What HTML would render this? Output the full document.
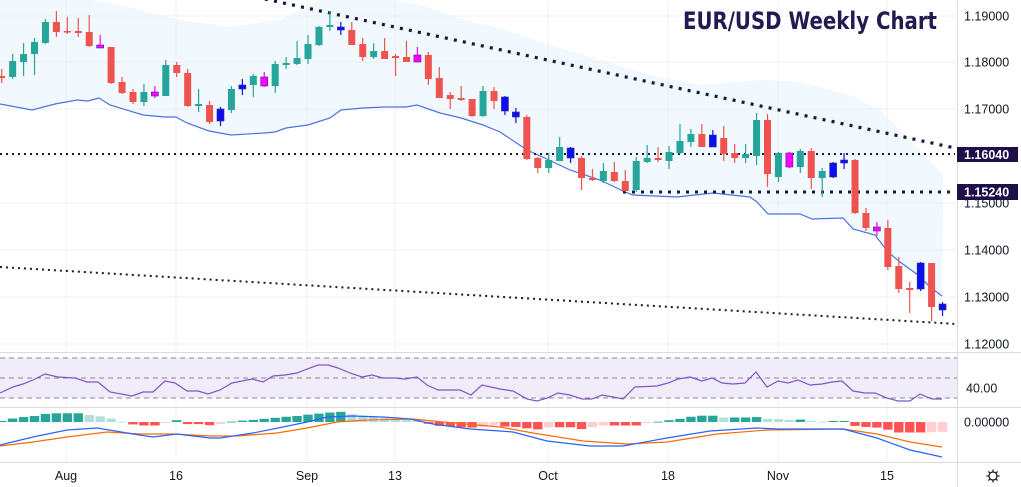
<!DOCTYPE html>
<html><head><meta charset="utf-8"><style>
html,body{margin:0;padding:0;background:#fff;width:1021px;height:487px;overflow:hidden}
svg{display:block}
text{font-family:"Liberation Sans",sans-serif}
</style></head><body>
<svg id="s" width="1021" height="487" viewBox="0 0 1021 487" xmlns="http://www.w3.org/2000/svg"></svg>
<script>
const s=document.getElementById('s');let h='';
const X=i=>1.7+10.94*i;
const up=[[0,-5],[60,-5],[120,5],[180,20],[230,27],[280,20],[320,0],[360,-5],[420,5],[470,22],[500,28],[550,45],[600,60],[650,75],[700,85],[760,80],[800,82],[850,95],[880,110],[910,140],[943,175]];
const lo=[[0,104],[32,110],[55,104],[77,100],[88,101],[99,98],[110,105],[143,115],[165,117],[176,117],[187,123],[209,131],[231,135],[264,133],[275,132],[286,128],[308,125],[330,118],[341,110],[363,108],[385,107],[406,107],[417,105],[440,113],[461,118],[483,125],[500,132],[527,150],[549,160],[570,170],[600,180],[625,192],[633,195],[677,197],[713,193],[750,197],[757,202],[768,214],[800,214],[812,219],[843,218],[853,229],[875,235],[888,252],[900,262],[918,275],[930,287],[942,296]];
h+=`<polygon points="${up.map(p=>p.join(',')).join(' ')} ${lo.slice().reverse().map(p=>p.join(',')).join(' ')}" fill="#f1f8fe"/>`;
const vx=[66,176,307,395,548,668,778,887];
vx.forEach(x=>h+=`<line x1="${x}" y1="0" x2="${x}" y2="462" stroke="#eef0f4" stroke-width="1"/>`);
const py=[[16,'1.19000'],[62,'1.18000'],[109,'1.17000'],[156,''],[203,'1.15000'],[250,'1.14000'],[297,'1.13000'],[344,'1.12000']];
py.forEach(p=>h+=`<line x1="0" y1="${p[0]}" x2="957" y2="${p[0]}" stroke="#eef0f4"/>`);
h+=`<rect x="0" y="358" width="957" height="40" fill="#f1ecf9"/>`;
[358,378,398].forEach(y=>h+=`<line x1="0" y1="${y}" x2="957" y2="${y}" stroke="#8a8594" stroke-dasharray="5,4" stroke-width="1"/>`);
h+=`<line x1="0" y1="352.5" x2="1021" y2="352.5" stroke="#d8dbe0"/><line x1="0" y1="407.5" x2="1021" y2="407.5" stroke="#d8dbe0"/><line x1="0" y1="462.5" x2="1021" y2="462.5" stroke="#d8dbe0"/><line x1="957.5" y1="0" x2="957.5" y2="487" stroke="#d8dbe0"/>`;
h+=`<polyline points="${lo.map(p=>p.join(',')).join(' ')}" fill="none" stroke="#4d72e0" stroke-width="1.2"/>`;
h+=`<line x1="265" y1="-1" x2="955" y2="148" stroke="#131a3a" stroke-width="3.2" stroke-dasharray="3,6.2"/>`;
h+=`<line x1="0" y1="267" x2="957" y2="324" stroke="#131a3a" stroke-width="2" stroke-dasharray="2,4"/>`;
h+=`<line x1="0" y1="154" x2="955" y2="154" stroke="#131a3a" stroke-width="2" stroke-dasharray="2,4"/>`;
h+=`<line x1="623" y1="192" x2="955" y2="192" stroke="#131a3a" stroke-width="3" stroke-dasharray="3,6"/>`;
const C={g:'#26a69a',r:'#ef5350',b:'#0a0ff0',m:'#ff00ff'};
const d=`r 76 78 69 83|g 61 77 54 79|g 54 62 43 76|g 42 54 38 75|g 22 43 19 44|r 22 32 11 37|r 31 32 17 34|r 31 33 18 37|r 32 46 15 47|m 45 48 35 48|r 47 83 47 84|r 82 93 77 94|r 92 102 89 104|g 92 102 84 106|m 92 96 86 98|g 65 96 60 96|r 65 73 62 77|r 73 106 69 107|g 104 106 89 112|r 105 122 101 124|b 109 121 107 126|g 89 110 86 113|b 85 89 79 95|g 76 85 74 97|m 77 86 72 87|g 64 86 61 93|g 63 65 57 69|g 58 64 41 65|g 44 59 35 64|g 27 45 26 46|g 25 27 11 31|b 27 30 22 35|r 30 45 22 45|r 44 57 38 61|g 51 57 43 59|r 51 59 38 59|r 56 58 54 76|r 57 62 41 62|m 55 62 47 62|r 55 79 52 85|r 78 98 67 98|r 95 99 92 109|r 98 100 86 101|r 99 116 99 117|g 91 116 86 117|r 91 101 87 109|b 97 111 96 115|b 112 117 108 123|r 117 159 115 160|r 158 168 157 173|g 160 168 153 173|g 147 161 137 161|b 148 158 147 163|r 158 178 156 190|r 178 180 169 181|g 171 181 163 183|r 172 181 162 182|r 181 191 170 192|g 161 190 157 192|g 158 162 145 163|r 158 160 147 162|g 152 161 146 169|g 141 153 124 154|g 134 142 129 147|r 134 147 124 147|b 135 147 130 147|r 138 154 126 161|r 153 158 144 163|g 154 158 144 163|g 120 156 113 165|r 120 174 114 187|g 153 177 152 182|m 153 167 152 168|g 151 167 149 173|r 151 178 148 189|g 171 178 168 197|b 163 177 162 178|b 160 163 153 169|r 160 213 159 214|r 213 228 208 231|m 227 231 222 236|r 228 267 220 270|r 266 289 257 293|r 288 290 282 313|b 263 289 262 291|r 263 307 263 321|b 304 310 302 316`.split('|');
d.forEach((r,i)=>{const a=r.split(' ');const c=C[a[0]];const bt=+a[1],bb=+a[2],wt=+a[3],wb=+a[4];const x=X(i);
h+=`<line x1="${x}" y1="${wt}" x2="${x}" y2="${wb}" stroke="${c}" stroke-width="1.2"/>`;
h+=`<rect x="${x-3.5}" y="${bt}" width="7" height="${Math.max(1.5,bb-bt)}" fill="${c}" ${a[0]=='b'||a[0]=='m'?'stroke="#3a2a8a" stroke-width="0.6"':''}/>`;});
const rsi=[[0,393],[13,387],[23,384],[33,380],[45,374],[58,377],[75,378],[87,382],[98,382],[110,392],[132,396],[143,392],[153,392],[165,381],[175,383],[187,391],[198,391],[208,394],[220,390],[232,383],[252,379],[263,382],[273,376],[285,375],[297,373],[307,369],[318,365],[328,365],[338,368],[350,373],[362,377],[372,375],[383,378],[395,378],[405,379],[417,377],[427,385],[438,390],[460,390],[471,395],[482,385],[500,389],[513,391],[527,399],[537,401],[547,398],[558,393],[570,395],[582,399],[592,399],[602,395],[613,397],[623,399],[635,387],[657,386],[668,383],[678,379],[690,377],[702,381],[712,378],[722,383],[733,384],[745,383],[756,372],[767,387],[778,381],[788,383],[798,380],[810,385],[822,384],[832,382],[842,381],[853,391],[865,393],[875,393],[887,398],[898,401],[910,401],[920,394],[932,399],[942,399]];
h+=`<polyline points="${rsi.map(p=>p.join(',')).join(' ')}" fill="none" stroke="#7e57c2" stroke-width="1.2"/>`;
const hv=[1,3.3,4.7,5.7,7.7,8.3,8.3,8.3,6.7,5.3,3.3,0.3,-2.3,-3.3,-3.3,-1,1.7,-2,-2,-3,-2,0.3,1.3,2,3,4,5,5.7,7,8,9,9.7,7.3,6,5,4,3,2,1.3,-1.7,-3.7,-4.3,-5,-5.3,-4.7,-3,-4.3,-4.7,-6,-7,-5,-5,-5,-6.7,-5,-3.3,-3.3,-3.3,-3.3,-1,0.3,1.7,3,5,6,6,4.3,4.3,4.3,4.7,3,2.7,2,2.3,1,0.3,1,1,-3.7,-4.7,-5.3,-7.3,-10,-10,-10,-9.7,-9.3].map(v=>v*1.05);
const z=422;
hv.forEach((v,i)=>{const p=i?hv[i-1]:0;let c;if(v>=0)c=v>=p?'#26a69a':'#b2dfdb';else c=v<=p?'#ff5252':'#ffcdd2';
const x=X(i);h+=`<rect x="${x-4.7}" y="${v>=0?z-v:z}" width="9.4" height="${Math.max(0.8,Math.abs(v))}" fill="${c}"/>`;});
const mac=[[0,445],[33,437],[67,430],[97,428],[133,434],[153,437],[177,434],[210,438],[220,438],[253,433],[283,427],[307,422],[327,417],[353,416],[383,417],[410,419],[433,424],[470,429],[500,431],[513,432],[547,441],[590,446],[623,446],[667,438],[710,431],[757,428],[777,429],[843,429],[877,438],[910,450],[942,457]];
const sig=[[0,446],[33,442],[67,437],[107,432],[140,434],[173,434],[210,436],[237,436],[277,433],[307,428],[337,422],[367,420],[413,419],[443,422],[500,427],[533,433],[583,441],[627,444],[667,442],[717,434],[767,430],[843,429],[877,434],[910,442],[942,447]];
h+=`<polyline points="${sig.map(p=>p.join(',')).join(' ')}" fill="none" stroke="#ff6d00" stroke-width="1.2"/>`;
h+=`<polyline points="${mac.map(p=>p.join(',')).join(' ')}" fill="none" stroke="#2962ff" stroke-width="1.2"/>`;
py.forEach(p=>{if(p[1])h+=`<text x="964" y="${p[0]+4.5}" font-size="12.5" fill="#131722">${p[1]}</text>`;});
h+=`<text x="966" y="392.5" font-size="12.5" fill="#131722">40.00</text>`;
h+=`<text x="964" y="426.5" font-size="12.5" fill="#131722">0.00000</text>`;
h+=`<rect x="957" y="147" width="61" height="15" fill="#1e0f48"/><text x="964" y="159" font-size="12.5" font-weight="bold" fill="#fff">1.16040</text>`;
h+=`<rect x="957" y="184" width="61" height="16" fill="#1e0f48"/><text x="964" y="196.5" font-size="12.5" font-weight="bold" fill="#fff">1.15240</text>`;
[['Aug',66],['16',176],['Sep',307],['13',395],['Oct',548],['18',668],['Nov',778],['15',887]].forEach(t=>h+=`<text x="${t[1]}" y="480" font-size="12.5" fill="#131722" text-anchor="middle">${t[0]}</text>`);
h+=`<g transform="translate(993,476)" stroke="#131722" stroke-width="1.2" fill="none"><circle r="4"/>${[0,45,90,135,180,225,270,315].map(a=>`<line x1="${4*Math.cos(a*Math.PI/180)}" y1="${4*Math.sin(a*Math.PI/180)}" x2="${6.5*Math.cos(a*Math.PI/180)}" y2="${6.5*Math.sin(a*Math.PI/180)}"/>`).join('')}</g>`;
h+=`<text x="683" y="29" font-size="24" font-weight="bold" fill="#231a50" textLength="254" lengthAdjust="spacingAndGlyphs" style="font-family:'DejaVu Sans',sans-serif">EUR/USD Weekly Chart</text>`;
s.innerHTML=h;
</script>
</body></html>
